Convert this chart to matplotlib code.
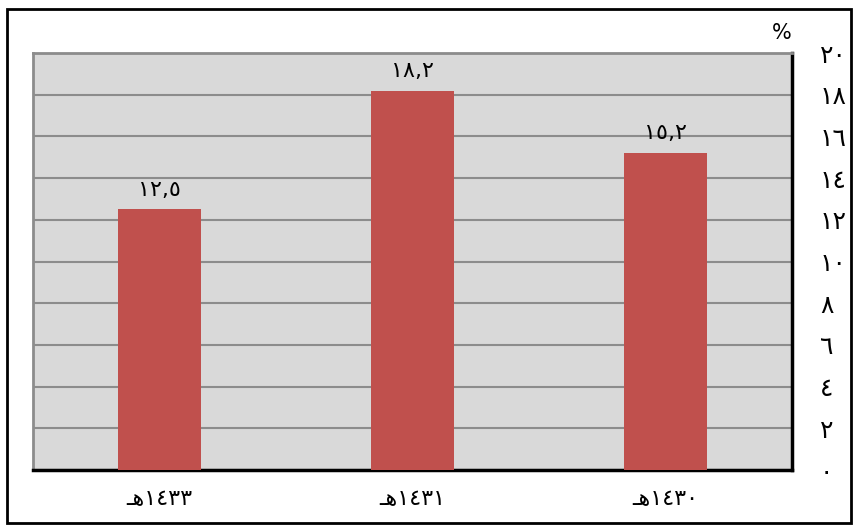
import matplotlib
matplotlib.use("Agg")
import matplotlib.pyplot as plt
from matplotlib.patches import Rectangle

categories = ["\u0640\uFEEB١٤٣٣", "\u0640\uFEEB١٤٣١", "\u0640\uFEEB١٤٣٠"]
values = [12.5, 18.2, 15.2]
value_labels = ["١٢,٥", "١٨,٢", "١٥,٢"]
yticks = [0, 2, 4, 6, 8, 10, 12, 14, 16, 18, 20]
ytick_labels = ["٠", "٢", "٤", "٦", "٨", "١٠", "١٢", "١٤", "١٦", "١٨", "٢٠"]

plt.rcParams['font.family'] = ['DejaVu Sans']

fig = plt.figure(figsize=(8.56, 5.29), dpi=100)
W, H = 856, 529
ax = fig.add_axes([33/W, 1-470/H, (792-33)/W, (470-53)/H])
ax.set_facecolor('#D9D9D9')

x = list(range(len(categories)))
ax.bar(x, values, width=0.33, color='#C0504D', zorder=3)
ax.set_xlim(-0.5, len(categories)-0.5)
ax.set_ylim(0, 20)
ax.set_yticks(yticks)
ax.set_yticklabels(ytick_labels, fontsize=18)
ax.yaxis.tick_right()
ax.tick_params(axis='y', length=0, pad=20)
ax.set_xticks(x)
ax.set_xticklabels(categories, fontsize=16)
ax.tick_params(axis='x', length=0, pad=14)
ax.grid(axis='y', color='#8C8C8C', linewidth=1.5, zorder=1)

for xi, v, lab in zip(x, values, value_labels):
    ax.annotate(lab, (xi, v), xytext=(0, 7), textcoords='offset points',
                ha='center', va='bottom', fontsize=16)

for s in ['left', 'top']:
    ax.spines[s].set_color('#8C8C8C')
    ax.spines[s].set_linewidth(2)
for s in ['right', 'bottom']:
    ax.spines[s].set_color('black')
    ax.spines[s].set_linewidth(2.5)

fig.text(782/W, 1-33/H, '%', fontsize=15, ha='center', va='center')

fig.patches.append(Rectangle((7/W, 1-523/H), (851-7)/W, (523-9)/H,
                             transform=fig.transFigure, fill=False,
                             edgecolor='black', linewidth=2))

fig.savefig('out.png', dpi=100)
